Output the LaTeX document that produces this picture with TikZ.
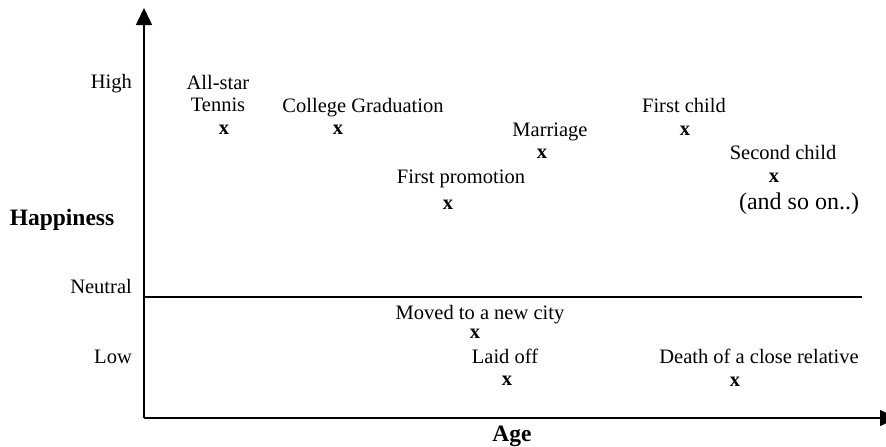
\documentclass[tikz,border=0pt]{standalone}
\usepackage{fontspec}
\setmainfont{Liberation Serif}
\usetikzlibrary{arrows.meta}
\begin{document}
\begin{tikzpicture}
    [x=1pt,y=-1pt,
     axis/.style={-{Triangle[width=16pt,length=17pt]},line width=1.5pt},
     lbl/.style={inner sep=0pt,font=\fontsize{20.5}{22}\selectfont,text height=15pt,text depth=3pt},
     cross/.style={inner sep=0pt,font=\fontsize{20.5}{22}\selectfont\bfseries},
     title/.style={inner sep=0pt,font=\fontsize{23.5}{26}\selectfont\bfseries,text height=17pt,text depth=4pt}]
    \useasboundingbox (0,0) rectangle (886,447);
    % axes
    \coordinate (O) at (144,418);
    \coordinate (T) at (144,8);
    \coordinate (R) at (897,418);
    \coordinate (N0) at (144,297);
    \coordinate (N1) at (862,297);
    \draw [axis] (O) -- (T);
    \draw [axis] (O) -- (R);
    \draw [line width=1.3pt] (N0) -- (N1);
    \node [lbl,anchor=east] (high) at (132,82) {High};
    \node [lbl,anchor=east] (neutral) at (132,287) {Neutral};
    \node [lbl,anchor=east] (low) at (132,357) {Low};
    \node [title] (happy) at (62,219) {Happiness};
    \node [title] (age) at (512,435) {Age};
    % good events
    \node [lbl] (A1) at (218,83) {All-star};
    \node [lbl] (A2) at (218,105) {Tennis};
    \node [cross] (a) at (224,130) {x};
    \node [lbl] (B) at (363,106) {College Graduation};
    \node [cross] (b) at (338,130) {x};
    \node [lbl] (C) at (550,130) {Marriage};
    \node [cross] (c) at (542,154) {x};
    \node [lbl] (D) at (461,177) {First promotion};
    \node [cross] (d) at (448,205) {x};
    \node [lbl] (E) at (684,106) {First child};
    \node [cross] (e) at (685,131) {x};
    \node [lbl] (F) at (783,153) {Second child};
    \node [cross] (f) at (774,178) {x};
    \node [lbl,font=\fontsize{24}{26}\selectfont] (G) at (799,203) {(and so on..)};
    % bad events
    \node [lbl] (H) at (480,313) {Moved to a new city};
    \node [cross] (h) at (475,334) {x};
    \node [lbl] (I) at (505,357) {Laid off};
    \node [cross] (i) at (507,381) {x};
    \node [lbl] (J) at (759,357) {Death of a close relative};
    \node [cross] (j) at (735,382) {x};
\end{tikzpicture}
\end{document}
